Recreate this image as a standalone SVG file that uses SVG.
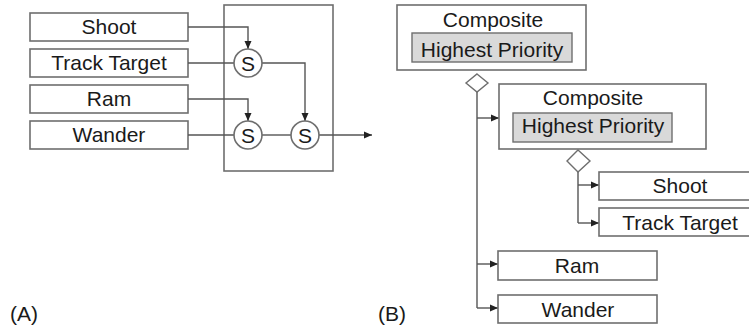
<svg xmlns="http://www.w3.org/2000/svg" width="749" height="326" viewBox="0 0 749 326">
<style>
.box{fill:#fff;stroke:#6e6e6e;stroke-width:1.6}
.grey{fill:#d9d9d9;stroke:#6e6e6e;stroke-width:1.4}
.t{font-family:"Liberation Sans",Arial,sans-serif;font-size:21px;fill:#1a1a1a;text-anchor:middle}
.lab{font-family:"Liberation Sans",Arial,sans-serif;font-size:21px;fill:#1a1a1a}
.ln{fill:none;stroke:#555;stroke-width:1.4}
.dia{fill:#fff;stroke:#6e6e6e;stroke-width:1.4}
</style>
<defs>
<marker id="ah" viewBox="0 0 8 8" refX="8" refY="4" markerWidth="8" markerHeight="8" markerUnits="userSpaceOnUse" orient="auto">
<path d="M0,0.5 L8,4 L0,7.5 z" fill="#222"/>
</marker>
</defs>
<rect x="224" y="5" width="109" height="166" class="box"/>
<g id="a-shoot"><rect x="30" y="13" width="158" height="28" class="box"/><text x="109" y="34" class="t">Shoot</text></g>
<g id="a-track"><rect x="30" y="49" width="158" height="28" class="box"/><text x="109" y="70" class="t">Track Target</text></g>
<g id="a-ram"><rect x="30" y="85" width="158" height="28" class="box"/><text x="109" y="105.5" class="t">Ram</text></g>
<g id="a-wander"><rect x="30" y="121" width="158" height="28" class="box"/><text x="109" y="142" class="t">Wander</text></g>
<g id="connectors-a">
<path d="M188,27 H248 V49" class="ln" marker-end="url(#ah)"/>
<path d="M188,63 H234" class="ln"/>
<path d="M262,63 H305 V121" class="ln" marker-end="url(#ah)"/>
<path d="M188,99 H248 V121" class="ln" marker-end="url(#ah)"/>
<path d="M188,135 H234" class="ln"/>
<path d="M262,135 H291" class="ln"/>
<path d="M319,135 H372" class="ln" marker-end="url(#ah)"/>
</g>
<g id="s1"><circle cx="248" cy="63" r="14" class="box"/><text x="248" y="70.5" class="t">S</text></g>
<g id="s2"><circle cx="248" cy="135" r="14" class="box"/><text x="248" y="142.5" class="t">S</text></g>
<g id="s3"><circle cx="305" cy="135" r="14" class="box"/><text x="305" y="142.5" class="t">S</text></g>
<text x="10" y="321" class="lab">(A)</text>
<g id="connectors-b">
<path d="M477,92 V308" class="ln"/>
<path d="M477,118 H499" class="ln" marker-end="url(#ah)"/>
<path d="M477,264 H498" class="ln" marker-end="url(#ah)"/>
<path d="M477,308 H498" class="ln" marker-end="url(#ah)"/>
<path d="M578,172 V223" class="ln"/>
<path d="M578,185 H599" class="ln" marker-end="url(#ah)"/>
<path d="M578,223 H599" class="ln" marker-end="url(#ah)"/>
</g>
<g id="b-comp1"><rect x="397" y="5" width="189" height="65" class="box"/><text x="493" y="27" class="t">Composite</text><rect x="412" y="33" width="160" height="29" class="grey"/><text x="492" y="56.5" class="t">Highest Priority</text></g>
<path d="M477,74 L488,83 L477,92 L466,83 z" class="dia"/>
<g id="b-comp2"><rect x="499" y="84" width="207" height="65" class="box"/><text x="593" y="104.5" class="t">Composite</text><rect x="513" y="113" width="159" height="29" class="grey"/><text x="593" y="133" class="t">Highest Priority</text></g>
<path d="M578,150 L590,161 L578,172 L567,161 z" class="dia"/>
<g id="b-shoot"><rect x="599" y="172" width="152" height="28" class="box"/><text x="680" y="193" class="t">Shoot</text></g>
<g id="b-track"><rect x="599" y="208" width="152" height="28" class="box"/><text x="680" y="230" class="t">Track Target</text></g>
<g id="b-ram"><rect x="498" y="251" width="159" height="29" class="box"/><text x="577" y="273" class="t">Ram</text></g>
<g id="b-wander"><rect x="498" y="295" width="159" height="28" class="box"/><text x="578" y="316.5" class="t">Wander</text></g>
<text x="378" y="321" class="lab">(B)</text>
</svg>
